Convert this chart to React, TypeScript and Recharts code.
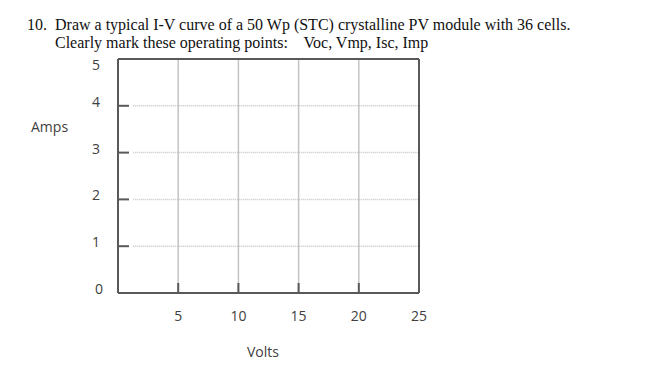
import React from "react";
import { ComposedChart, XAxis, YAxis, ReferenceLine } from "recharts";

const titleLine1 = "10.  Draw a typical I-V curve of a 50 Wp (STC) crystalline PV module with 36 cells.";
const titleLine2 = "Clearly mark these operating points:    Voc, Vmp, Isc, Imp";
const xTicks = [5, 10, 15, 20, 25];
const yTicks = [0, 1, 2, 3, 4, 5];
const xGrid = [5, 10, 15, 20];
const yGrid = [1, 2, 3, 4];
const xLabel = "Volts";
const yLabel = "Amps";
const xMax = 25;
const yMax = 5;
const gridStartVolts = 1.27;

const AXIS = "#595959";
const TEXT = "#404040";
const FONT = "'Open Sans', sans-serif";

const YTick = (props: any) => {
  const { x, y, payload } = props;
  const v = payload.value;
  const axisX = x + 18;
  const dy = v === yMax ? 11 : 1;
  return (
    <g>
      {v > 0 && v < yMax ? (
        <line x1={axisX} x2={axisX + 11} y1={y} y2={y} stroke={AXIS} strokeWidth={2} />
      ) : null}
      <text x={v === 0 ? x + 3 : x} y={y + dy} textAnchor="end" fontFamily={FONT} fontSize={14} fill={TEXT}>
        {v}
      </text>
    </g>
  );
};

const XTick = (props: any) => {
  const { x, y, payload } = props;
  const v = payload.value;
  return (
    <g>
      {v < xMax ? (
        <line x1={x} x2={x} y1={y} y2={y - 10} stroke={AXIS} strokeWidth={2} />
      ) : null}
      <text x={x} y={y + 28} textAnchor="middle" fontFamily={FONT} fontSize={14} fill={TEXT}>
        {v}
      </text>
    </g>
  );
};

export default function App() {
  return (
    <div style={{ position: "absolute", left: 0, top: 0, width: 659, height: 384, background: "#fff" }}>
      <div
        style={{
          position: "absolute",
          left: 27,
          top: 16,
          fontFamily: "'Liberation Serif', serif",
          fontSize: 16,
          whiteSpace: "pre",
          color: "#111",
          lineHeight: "18px",
        }}
      >
        {titleLine1}
      </div>
      <div
        style={{
          position: "absolute",
          left: 55,
          top: 34,
          fontFamily: "'Liberation Serif', serif",
          fontSize: 16,
          whiteSpace: "pre",
          color: "#111",
          lineHeight: "18px",
        }}
      >
        {titleLine2}
      </div>
      <div style={{ position: "absolute", left: 31, top: 117, fontFamily: FONT, fontSize: 14, color: TEXT }}>{yLabel}</div>
      <div style={{ position: "absolute", left: 247, top: 342, fontFamily: FONT, fontSize: 14, color: TEXT }}>{xLabel}</div>
      <div style={{ position: "absolute", left: 0, top: 0 }}>
        <ComposedChart width={659} height={384} data={[]} margin={{ top: 59, right: 240, bottom: 61, left: 58 }}>
          <XAxis
            type="number"
            dataKey="v"
            domain={[0, xMax]}
            ticks={xTicks}
            allowDataOverflow
            height={30}
            tickSize={0}
            tickMargin={0}
            tickLine={false}
            axisLine={{ stroke: AXIS, strokeWidth: 2 }}
            tick={<XTick />}
            interval={0}
          />
          <YAxis
            type="number"
            dataKey="a"
            domain={[0, yMax]}
            ticks={yTicks}
            allowDataOverflow
            width={60}
            tickSize={0}
            tickMargin={18}
            tickLine={false}
            axisLine={{ stroke: AXIS, strokeWidth: 2 }}
            tick={<YTick />}
            interval={0}
          />
          {xGrid.map((v) => (
            <ReferenceLine key={"vx" + v} x={v} stroke="#c4c4c4" strokeWidth={1.5} />
          ))}
          {yGrid.map((v) => (
            <ReferenceLine
              key={"hy" + v}
              segment={[
                { x: gridStartVolts, y: v },
                { x: xMax, y: v },
              ]}
              stroke="#c4c4c4"
              strokeWidth={1.5}
              strokeDasharray="1 1"
            />
          ))}
          <ReferenceLine y={yMax} stroke={AXIS} strokeWidth={2} />
          <ReferenceLine x={xMax} stroke={AXIS} strokeWidth={2} />
        </ComposedChart>
      </div>
    </div>
  );
}
